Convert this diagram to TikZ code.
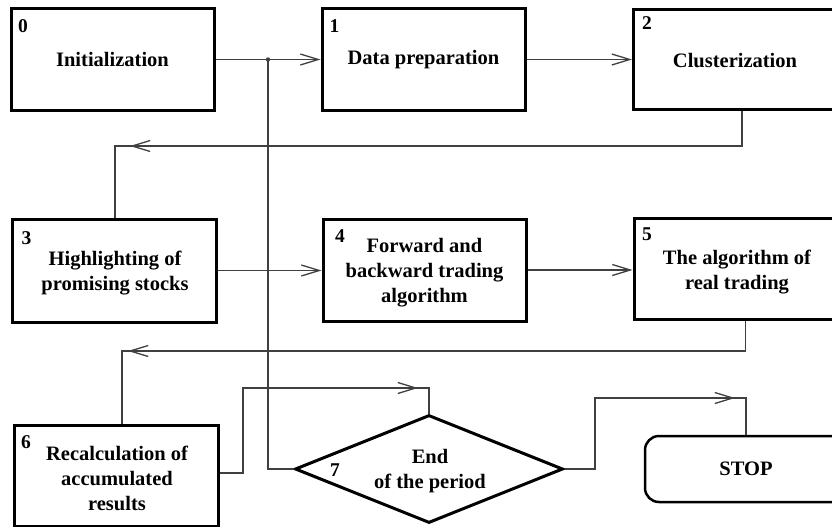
\documentclass[tikz,border=0pt]{standalone}
\usepackage{fontspec}
\setmainfont{Liberation Serif}
\usetikzlibrary{arrows.meta,shapes.geometric,calc}
\begin{document}
\begin{tikzpicture}[x=1pt,y=-1pt,
  box/.style={draw=black,line width=3pt,minimum width=203pt,minimum height=102pt,inner sep=0pt,align=center,font=\fontsize{20.5}{25}\selectfont\bfseries},
  txt/.style={inner sep=0pt,align=center,font=\fontsize{20.5}{25}\selectfont\bfseries},
  num/.style={font=\fontsize{19.5}{22}\selectfont\bfseries,inner sep=0pt},
  conn/.style={draw=black!75,line width=1.3pt},
  tip/.style={conn,-{Straight Barb[length=18pt,width=11pt]}},
]
\useasboundingbox (0,0) rectangle (832,527);
\clip (0,0) rectangle (832,527);
\fill[white] (0,0) rectangle (832,527);

\node[box] (b0) at (112.5,59.5) {Initialization};
\node[box] (b1) at (423.5,59.5) {Data preparation};
\node[box,minimum height=100pt] (b2) at (735,59.5) {};
\node[txt] (t2) at (735,61) {Clusterization};
\node[box,minimum width=204pt,minimum height=103pt] (b3) at (114,270.5) {};
\node[txt] (t3) at (115,273.5) {Highlighting of\\promising stocks};
\node[box] (b4) at (424.5,270) {};
\node[txt] (t4) at (424.5,272.5) {Forward and\\backward trading\\algorithm};
\node[box,minimum height=101pt] (b5) at (735.5,269) {};
\node[txt] (t5) at (737,272) {The algorithm of\\real trading};
\node[box,minimum width=204pt,minimum height=101pt] (b6) at (116,475.5) {};
\node[txt] (t6) at (117,478) {Recalculation of\\accumulated\\results};
\node[diamond,draw=black,line width=3pt,minimum width=268pt,minimum height=108pt,inner sep=0pt] (d7) at (429,469) {};
\node[txt] (t7) at (430,471.5) {End\\of the period};
\node[box,line width=2.5pt,rounded corners=14pt,minimum width=202pt,minimum height=66pt] (st) at (746,469) {STOP};

\node[num] (n0) at (23,26.5) {0};
\node[num] (n1) at (334.5,26) {1};
\node[num] (n2) at (647,23) {2};
\node[num] (n3) at (26.5,238) {3};
\node[num] (n4) at (340,236.5) {4};
\node[num] (n5) at (647,234.5) {5};
\node[num] (n6) at (26,442) {6};
\node[num] (n7) at (335,470) {7};

% connectors
\coordinate (j) at (268,59.5);
\draw[tip] (b0.east) -- (b1.west);
\fill[black!75] (j) circle (2.2pt);
\draw[conn] (j) |- (d7.west);
\draw[tip] (b1.east) -- (b2.west);

\coordinate (c23) at (115,146);
\draw[conn] ([xshift=7pt]b2.south) |- (c23) -- (b3.north -| c23);
\draw[tip] ($(c23)+(30,0)$) -- ($(c23)+(15,0)$);

\draw[tip] (b3.east) -- (b3.east -| b4.west);
\draw[tip] (b4.east) -- (b4.east -| b5.west);

\coordinate (c56) at (122,351);
\draw[conn] ([xshift=10pt]b5.south) |- (c56) -- (b6.north -| c56);
\draw[tip] ($(c56)+(22,0)$) -- ($(c56)+(6,0)$);

\coordinate (c67) at (243,388);
\draw[conn] ([yshift=2.5pt]b6.east) -| (c67) -| (d7.north);
\draw[tip] ($(d7.north |- c67)+(-26,0)$) -- ($(d7.north |- c67)+(-11,0)$);

\coordinate (c7s) at (595,398);
\draw[conn] (d7.east) -| (c7s) -| (st.north);
\draw[tip] ($(st.north |- c7s)+(-26,0)$) -- ($(st.north |- c7s)+(-11,0)$);
\end{tikzpicture}
\end{document}
